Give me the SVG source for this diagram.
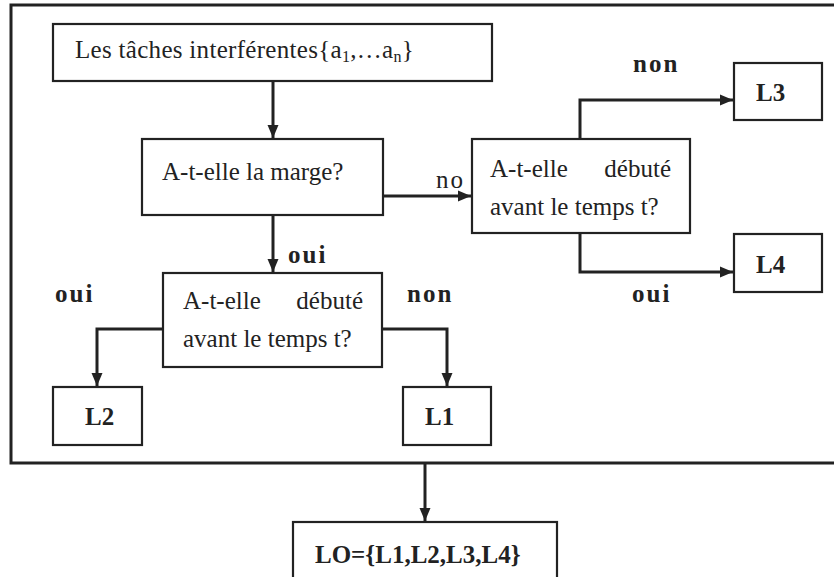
<svg xmlns="http://www.w3.org/2000/svg" width="834" height="577" viewBox="0 0 834 577">
<style>
.box{fill:#fff;stroke:#222;stroke-width:2.2}
.frame{fill:none;stroke:#222;stroke-width:3}
.conn{fill:none;stroke:#222;stroke-width:3}
.t{font-family:"Liberation Serif","Times New Roman",serif;font-size:25px;fill:#222}
.b{font-family:"Liberation Serif","Times New Roman",serif;font-size:25px;font-weight:bold;fill:#222}
.lbl{font-family:"Liberation Serif","Times New Roman",serif;font-size:25px;font-weight:bold;fill:#222;letter-spacing:2px}
</style>
<defs>
<marker id="arr" markerUnits="userSpaceOnUse" markerWidth="14" markerHeight="14" viewBox="0 0 14 14" refX="13" refY="7" orient="auto">
<path d="M0,1.5 L13,7 L0,12.5 Z" fill="#222"/>
</marker>
</defs>
<rect width="834" height="577" fill="#fff"/>
<g id="frame">
<path class="frame" d="M840,5 H11 V463 H840"/>
</g>
<g id="connectors">
<path class="conn" d="M273,80 V138" marker-end="url(#arr)"/>
<path class="conn" d="M383,196 H471" marker-end="url(#arr)"/>
<path class="conn" d="M580,139 V100 H733" marker-end="url(#arr)"/>
<path class="conn" d="M580,233 V272 H733" marker-end="url(#arr)"/>
<path class="conn" d="M273,215 V272" marker-end="url(#arr)"/>
<path class="conn" d="M163,329 H97 V386" marker-end="url(#arr)"/>
<path class="conn" d="M382,329 H447 V386" marker-end="url(#arr)"/>
<path class="conn" d="M425,463 V521" marker-end="url(#arr)"/>
</g>
<g id="labels">
<text class="t" x="436" y="188" style="letter-spacing:2px">no</text>
<text class="lbl" x="633" y="72">non</text>
<text class="lbl" x="632" y="302">oui</text>
<text class="lbl" x="288" y="263">oui</text>
<text class="lbl" x="55" y="302">oui</text>
<text class="lbl" x="407" y="302">non</text>
</g>
<g id="n_taches">
<rect class="box" x="53" y="24" width="439" height="57"/>
<text class="t" x="75" y="58" style="letter-spacing:0.3px">Les tâches interférentes{a<tspan font-size="16" dy="4">1</tspan><tspan dy="-4">,…a</tspan><tspan font-size="16" dy="4">n</tspan><tspan dy="-4">}</tspan></text>
</g>
<g id="n_marge">
<rect class="box" x="142" y="139" width="241" height="76"/>
<text class="t" x="162" y="180">A-t-elle la marge?</text>
</g>
<g id="n_debute_droite">
<rect class="box" x="472" y="139" width="218" height="94"/>
<text class="t" y="177"><tspan x="490">A-t-elle</tspan><tspan x="671" text-anchor="end">débuté</tspan></text>
<text class="t" x="490" y="215">avant le temps t?</text>
</g>
<g id="n_L3">
<rect class="box" x="734" y="63" width="88" height="57"/>
<text class="b" x="756" y="101">L3</text>
</g>
<g id="n_L4">
<rect class="box" x="734" y="234" width="88" height="58"/>
<text class="b" x="756" y="273">L4</text>
</g>
<g id="n_debute_bas">
<rect class="box" x="163" y="273" width="219" height="94"/>
<text class="t" y="309"><tspan x="183">A-t-elle</tspan><tspan x="363" text-anchor="end">débuté</tspan></text>
<text class="t" x="183" y="347">avant le temps t?</text>
</g>
<g id="n_L2">
<rect class="box" x="53" y="387" width="89" height="58"/>
<text class="b" x="85" y="425">L2</text>
</g>
<g id="n_L1">
<rect class="box" x="403" y="387" width="88" height="58"/>
<text class="b" x="425" y="425">L1</text>
</g>
<g id="n_LO">
<rect class="box" x="293" y="522" width="264" height="70"/>
<text class="b" x="315" y="563">LO={L1,L2,L3,L4}</text>
</g>
</svg>
